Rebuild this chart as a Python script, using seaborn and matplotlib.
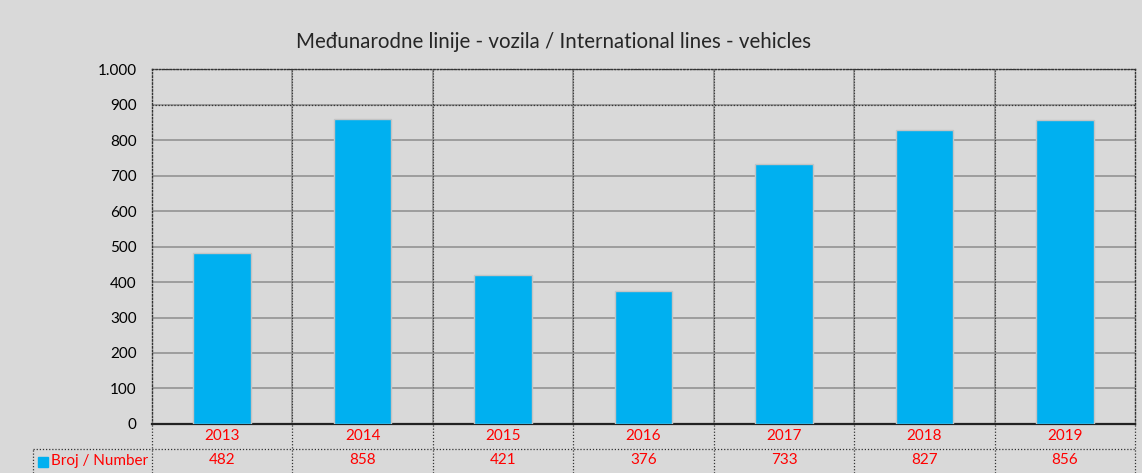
import pandas as pd
import matplotlib.pyplot as plt
import matplotlib.ticker as mticker
from matplotlib.lines import Line2D
from matplotlib.patches import Rectangle
import seaborn as sns


# ==========================================
# DATA
# ==========================================

years = ["2013", "2014", "2015", "2016", "2017", "2018", "2019"]
vehicles = [482, 858, 421, 376, 733, 827, 856]

title = "Međunarodne linije - vozila / International lines - vehicles"
series_label = "Broj / Number"
y_ticks = [0, 100, 200, 300, 400, 500, 600, 700, 800, 900, 1000]

df = pd.DataFrame({"year": years, "value": vehicles})


# ==========================================
# STYLE
# ==========================================

bg = "#d9d9d9"
bar_color = "#00b0f0"
red = "#ff0000"

sns.set_style("white")
plt.rcParams["font.family"] = ["Lato", "DejaVu Sans"]


# ==========================================
# FIGURE
# ==========================================

fig = plt.figure(figsize=(11.42, 4.73), dpi=100, facecolor=bg)
ax = fig.add_axes([0.1331, 0.1036, 0.8608, 0.7505])
ax.set_facecolor(bg)

sns.barplot(
    data=df,
    x="year",
    y="value",
    color=bar_color,
    width=0.41,
    saturation=1,
    edgecolor="#c4c4c4",
    linewidth=1.0,
    ax=ax,
    zorder=3
)

ax.set_ylim(0, 1000)
ax.set_xlim(-0.5, len(years) - 0.5)
ax.set_yticks(y_ticks)
ax.yaxis.set_major_formatter(
    mticker.FuncFormatter(lambda v, p: f"{int(v):,}".replace(",", "."))
)
ax.tick_params(axis="y", labelsize=11, length=0, pad=11, colors="black")
ax.set_xticks([])
ax.set_xlabel("")
ax.set_ylabel("")

# gridlines
for t in y_ticks[1:]:
    ax.axhline(t, color="#939393", linewidth=1.2, zorder=1)
for i in range(1, len(years)):
    ax.axvline(i - 0.5, color="#939393", linewidth=1.2, zorder=1)
    ax.axvline(i - 0.5, color="#333333", linewidth=0.8,
               linestyle=(0, (1, 1.5)), zorder=1)
for t in [900, 1000]:
    ax.axhline(t, color="#333333", linewidth=0.9,
               linestyle=(0, (1, 1.5)), zorder=2)

for side in ["top", "right", "left"]:
    ax.spines[side].set_visible(True)
    ax.spines[side].set_color("#333333")
    ax.spines[side].set_linewidth(1.0)
    ax.spines[side].set_linestyle((0, (1, 1.5)))
ax.spines["bottom"].set_color("#222222")
ax.spines["bottom"].set_linewidth(1.6)

fig.text(0.485, 0.911, title, ha="center", va="center", fontsize=14.8)


# ==========================================
# DATA TABLE
# ==========================================

trans = ax.get_xaxis_transform()
row1_y = -0.035
row2_y = -0.102

for i, (yr, v) in enumerate(zip(years, vehicles)):
    ax.text(i, row1_y, yr, transform=trans, ha="center", va="center",
            color=red, fontsize=11)
    ax.text(i, row2_y, str(v), transform=trans, ha="center", va="center",
            color=red, fontsize=11)

line_kw = dict(color="#333333", linewidth=0.9,
               linestyle=(0, (1, 1.5)), transform=fig.transFigure)

ax_left = 0.1331
ax_right = 0.9939
y_mid = 1 - 449 / 473
y_bot = 0.0
table_left = 33 / 1142

fig.lines.append(Line2D([table_left, ax_right], [y_mid, y_mid], **line_kw))
fig.lines.append(Line2D([table_left, table_left], [y_bot, y_mid], **line_kw))
fig.lines.append(Line2D([ax_right, ax_right], [y_bot, 0.1036], **line_kw))
for i in range(len(years)):
    xf = ax_left + (ax_right - ax_left) * i / len(years)
    fig.lines.append(Line2D([xf, xf], [y_bot, 0.1036], **line_kw))

fig.patches.append(Rectangle((38 / 1142, 1 - 467 / 473), 10 / 1142, 10 / 473,
                             transform=fig.transFigure, color=bar_color))
fig.text(51 / 1142, 1 - 461 / 473, series_label, ha="left", va="center",
         color=red, fontsize=11)

plt.savefig("out.png", dpi=100, facecolor=bg)
plt.close()
